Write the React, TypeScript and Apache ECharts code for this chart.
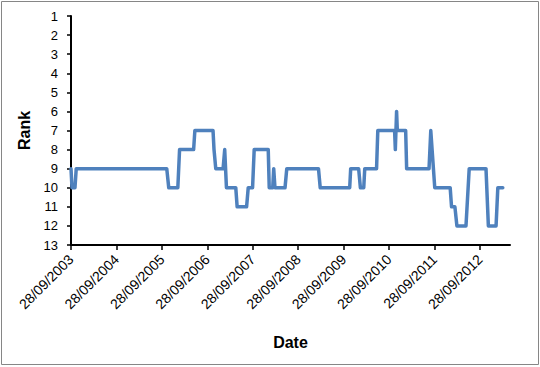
import React, { useEffect, useRef } from "react";
import * as echarts from "echarts";

const dates: string[] = [
  "2003-09-28", "2003-10-06", "2003-10-30", "2003-11-09",
  "2005-11-06", "2005-11-22", "2006-02-03", "2006-02-17",
  "2006-06-10", "2006-06-20", "2006-11-13", "2006-11-21",
  "2006-12-05", "2007-02-02", "2007-02-15", "2007-03-01",
  "2007-05-15", "2007-05-26", "2007-08-10", "2007-08-23",
  "2007-09-27", "2007-10-10", "2008-01-31", "2008-02-08",
  "2008-03-07", "2008-03-15", "2008-03-25", "2008-06-14",
  "2008-06-28", "2009-03-10", "2009-03-24", "2009-11-16",
  "2009-11-24", "2010-01-27", "2010-02-10", "2010-03-09",
  "2010-03-17", "2010-06-20", "2010-06-30", "2010-11-12",
  "2010-11-18", "2010-11-28", "2010-12-04", "2011-02-09",
  "2011-02-17", "2011-08-16", "2011-08-30", "2011-10-01",
  "2012-02-02", "2012-02-13", "2012-03-11", "2012-03-27",
  "2012-06-08", "2012-07-04", "2012-11-16", "2012-12-05",
  "2013-02-05", "2013-02-19", "2013-03-31",
];

const ranks: number[] = [
  9, 10, 10, 9,
  9, 10, 10, 8,
  8, 7, 7, 8,
  9, 9, 8, 10,
  10, 11, 11, 10,
  10, 8, 8, 10,
  10, 9, 10, 10,
  9, 9, 10, 10,
  9, 9, 10, 10,
  9, 9, 7, 7,
  8, 6, 7, 7,
  9, 9, 7, 10,
  10, 11, 11, 12,
  12, 9, 9, 12,
  12, 10, 10,
];

const tickDates: string[] = [
  "2003-09-28", "2004-09-28", "2005-09-28", "2006-09-28", "2007-09-28",
  "2008-09-28", "2009-09-28", "2010-09-28", "2011-09-28", "2012-09-28",
];
const tickLabels: string[] = [
  "28/09/2003", "28/09/2004", "28/09/2005", "28/09/2006", "28/09/2007",
  "28/09/2008", "28/09/2009", "28/09/2010", "28/09/2011", "28/09/2012",
];

const axisStart = "2003-09-28";
const axisEnd = "2013-05-28";

const ts = (s: string) => new Date(s + "T00:00:00Z").getTime();

export default function App() {
  const ref = useRef<HTMLDivElement>(null);
  useEffect(() => {
    document.body.style.margin = "0";
    if (!ref.current) return;
    const chart = echarts.init(ref.current, null, { renderer: "svg" });
    const tickTimes = tickDates.map(ts);
    const font = "'Liberation Sans', Arial, sans-serif";
    chart.setOption({
      animation: false,
      backgroundColor: "#ffffff",
      graphic: [
        {
          type: "rect",
          shape: { x: 1.5, y: 1.5, width: 537, height: 363 },
          style: { fill: "none", stroke: "#868686", lineWidth: 1 },
          silent: true,
        },
      ],
      grid: { left: 71, right: 30, top: 16, bottom: 122, containLabel: false },
      xAxis: {
        type: "value",
        min: ts(axisStart),
        max: ts(axisEnd),
        name: "Date",
        nameLocation: "middle",
        nameGap: 89,
        nameTextStyle: { fontFamily: font, fontWeight: "bold", fontSize: 16, color: "#000" },
        axisLine: { show: true, onZero: false, lineStyle: { color: "#000", width: 2 } },
        axisTick: { show: true, length: 5, customValues: tickTimes, lineStyle: { color: "#000", width: 1.5 } },
        axisLabel: {
          customValues: tickTimes,
          rotate: 45,
          margin: 12,
          fontFamily: font,
          fontSize: 14,
          color: "#000",
          formatter: (v: number) => {
            const i = tickTimes.indexOf(v);
            return i >= 0 ? tickLabels[i] : "";
          },
        },
        splitLine: { show: false },
      },
      yAxis: {
        type: "value",
        inverse: true,
        min: 1,
        max: 13,
        interval: 1,
        name: "Rank",
        nameLocation: "middle",
        nameGap: 36,
        nameTextStyle: { fontFamily: font, fontWeight: "bold", fontSize: 16, color: "#000" },
        axisLine: { show: true, lineStyle: { color: "#000", width: 2 } },
        axisTick: { show: true, length: 4, lineStyle: { color: "#000", width: 1.5 } },
        axisLabel: { margin: 13, fontFamily: font, fontSize: 13, color: "#000" },
        splitLine: { show: false },
      },
      series: [
        {
          type: "line",
          data: dates.map((d, i) => [ts(d), ranks[i]]),
          symbol: "none",
          smooth: false,
          lineStyle: { color: "#4F81BD", width: 3.5, join: "round", cap: "round" },
          itemStyle: { color: "#4F81BD" },
        },
      ],
    });
    return () => chart.dispose();
  }, []);
  return <div ref={ref} style={{ width: 540, height: 367 }} />;
}
